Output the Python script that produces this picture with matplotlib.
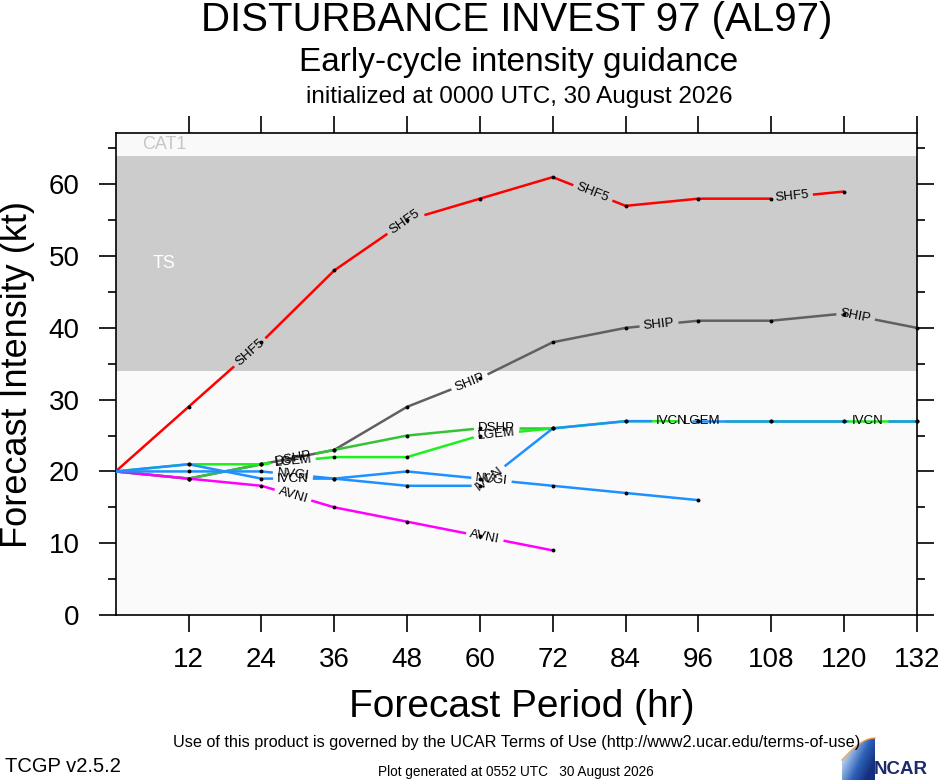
import numpy as np
import matplotlib
matplotlib.use('Agg')
import matplotlib.pyplot as plt
from matplotlib.patches import Polygon
from matplotlib.colors import LinearSegmentedColormap

plt.rcParams['font.family'] = ['Liberation Sans', 'DejaVu Sans']

# forecast hours
hours = [0, 12, 24, 36, 48, 60, 72, 84, 96, 108, 120, 132]

# model intensities (kt)
shf5 = [20, 29, 38, 48, 55, 58, 61, 57, 58, 58, 59]
ship = [20, 19, 21, 23, 29, 33, 38, 40, 41, 41, 42, 40]
dshp = [20, 19, 21, 23, 25, 26, 26]
lgem = [20, 21, 21, 22, 22, 25, 26, 27, 27, 27, 27, 27]
avni = [20, 19, 18, 15, 13, 11, 9]
nvgi = [20, 20, 20, 19, 20, 19, 18, 17, 16]
ivcn = [20, 21, 19, 19, 18, 18, 26, 27, 27, 27, 27, 27]

# where the in-line labels sit (forecast hour)
lab_shf5 = [22.1, 47.6, 78.6, 111.4]
lab_ship = [58.3, 89.5, 121.9]
lab_dshp = [29.2, 62.7]
lab_lgem = [29.2, 62.7, 96.6]
lab_avni = [29.2, 60.8]
lab_nvgi = [29.2, 61.9]
lab_ivcn = [29.2, 61.5, 91.6, 123.9]

fig = plt.figure(figsize=(9.4, 7.8), dpi=100)
ax = fig.add_axes([115.7 / 940, 1 - 615 / 780, 801.3 / 940, 482 / 780])
ax.set_xlim(0, 132)
ax.set_ylim(0, 67.15)
renderer = fig.canvas.get_renderer()

# intensity bands
ax.axhspan(0, 34, color='#fafafa', lw=0, zorder=0)
ax.axhspan(34, 64, color='#cccccc', lw=0, zorder=0)
ax.axhspan(64, 67.15, color='#f9f9f9', lw=0, zorder=0)
ax.text(8, 65.6, 'CAT1', color='#c6c6c6', fontsize=13, ha='center', va='center', zorder=1)
ax.text(8, 49, 'TS', color='white', fontsize=13, ha='center', va='center', zorder=1)


def point_at(pts, cum, seglen, s):
    j = int(np.clip(np.searchsorted(cum, s) - 1, 0, len(seglen) - 1))
    f = (s - cum[j]) / seglen[j]
    return pts[j] + f * (pts[j + 1] - pts[j])


# draw one model track, broken where its name is written
def draw_track(y, name, color, label_at, z):
    x = np.asarray(hours[:len(y)], float)
    y = np.asarray(y, float)
    pts = ax.transData.transform(np.column_stack([x, y]))
    seglen = np.hypot(*np.diff(pts, axis=0).T)
    cum = np.concatenate([[0], np.cumsum(seglen)])
    inv = ax.transData.inverted()

    t0 = ax.text(0, 0, name, fontsize=9.5)
    w = t0.get_window_extent(renderer).width
    t0.remove()

    gaps = []
    for lx in label_at:
        i = int(np.clip(np.searchsorted(x, lx) - 1, 0, len(x) - 2))
        f = (lx - x[i]) / (x[i + 1] - x[i])
        p = pts[i] + f * (pts[i + 1] - pts[i])
        d = pts[i + 1] - pts[i]
        ang = np.degrees(np.arctan2(d[1], d[0]))
        xd, yd = inv.transform(p)
        ax.text(xd, yd, name, fontsize=9.5, rotation=ang, rotation_mode='anchor',
                ha='center', va='center', zorder=10)
        s0 = cum[i] + f * seglen[i]
        gaps.append((s0 - w / 2 - 4, s0 + w / 2 + 4))

    keep = []
    start = 0
    for a, b in sorted(gaps):
        keep.append((start, a))
        start = b
    keep.append((start, cum[-1]))
    for a, b in keep:
        a = max(a, 0)
        b = min(b, cum[-1])
        if b <= a:
            continue
        inner = pts[(cum > a) & (cum < b)]
        piece = np.vstack([point_at(pts, cum, seglen, a), inner, point_at(pts, cum, seglen, b)])
        dd = inv.transform(piece)
        ax.plot(dd[:, 0], dd[:, 1], color=color, lw=1.8, zorder=z, solid_capstyle='butt')
    ax.plot(x[1:], y[1:], 'o', color='black', ms=2.8, mew=0, zorder=8, clip_on=False)


draw_track(ship, 'SHIP', '#606060', lab_ship, 2)
draw_track(dshp, 'DSHP', '#36c236', lab_dshp, 3)
draw_track(lgem, 'LGEM', '#1ef01e', lab_lgem, 3.5)
draw_track(shf5, 'SHF5', '#ff0000', lab_shf5, 4)
draw_track(avni, 'AVNI', '#ff00ff', lab_avni, 4.5)
draw_track(nvgi, 'NVGI', '#1e90ff', lab_nvgi, 5)
draw_track(ivcn, 'IVCN', '#1e90ff', lab_ivcn, 5.5)

# axes and ticks
ax.set_xticks(range(12, 133, 12))
ax.set_yticks(range(0, 61, 10))
ax.set_yticks(range(5, 66, 10), minor=True)
ax.tick_params(axis='x', which='major', direction='out', length=12, width=1.2,
               labelsize=20, pad=11, top=True, labeltop=False)
ax.tick_params(axis='y', which='major', direction='out', length=12, width=1.2,
               labelsize=20, pad=14, right=True)
ax.tick_params(axis='y', which='minor', direction='out', length=6, width=1.2, right=True)
for sp in ax.spines.values():
    sp.set_linewidth(1.2)

ax.set_xlabel('Forecast Period (hr)', fontsize=28, va='center')
ax.xaxis.set_label_coords(0.507, (615 - 707) / 482)
ax.set_ylabel('Forecast Intensity (kt)', fontsize=26, va='center')
ax.yaxis.set_label_coords((18 - 115.7) / 801.3, 0.5)

# titles
fig.text(517 / 940, 1 - 20 / 780, 'DISTURBANCE INVEST 97 (AL97)', fontsize=29, ha='center', va='center')
fig.text(519 / 940, 1 - 62 / 780, 'Early-cycle intensity guidance', fontsize=24, ha='center', va='center')
fig.text(519 / 940, 1 - 97 / 780, 'initialized at 0000 UTC, 30 August 2026', fontsize=17.5,
         ha='center', va='center')

# footer
fig.text(517 / 940, 1 - 742 / 780,
         'Use of this product is governed by the UCAR Terms of Use (http://www2.ucar.edu/terms-of-use)',
         fontsize=11.7, ha='center', va='center')
fig.text(5 / 940, 1 - 766 / 780, 'TCGP v2.5.2', fontsize=14.5, ha='left', va='center')
fig.text(516 / 940, 1 - 772 / 780, 'Plot generated at 0552 UTC   30 August 2026', fontsize=9.8,
         ha='center', va='center')

# NCAR logo
lax = fig.add_axes([840 / 940, 0, 100 / 940, 45 / 780])
lax.set_xlim(840, 940)
lax.set_ylim(0, 45)
lax.axis('off')
arc_x = np.linspace(842, 875, 40)
arc_y = 20 + 22 * np.sin((arc_x - 842) / 33 * np.pi / 2)
shape = Polygon(np.vstack([np.column_stack([arc_x, arc_y]), [[875, 0], [842, 0]]]),
                closed=True, facecolor='none', edgecolor='none')
lax.add_patch(shape)
gx, gy = np.meshgrid(np.linspace(0, 1, 80), np.linspace(1, 0, 60))
grad = np.clip(0.75 * gx + 0.45 * gy, 0, 1)
cm = LinearSegmentedColormap.from_list('ncar', ['#ffffff', '#9dbde6', '#2f62b8', '#142f80'])
im = lax.imshow(grad, extent=[842, 875, 0, 42], cmap=cm, aspect='auto', origin='lower')
im.set_clip_path(shape)
lax.plot(arc_x, arc_y, color='#f0a35a', lw=1.0)
lax.text(874, 2, 'NCAR', fontsize=13.5, fontweight='bold', color='#1d2b6b',
         ha='left', va='bottom')

fig.savefig('out.png', dpi=100)
